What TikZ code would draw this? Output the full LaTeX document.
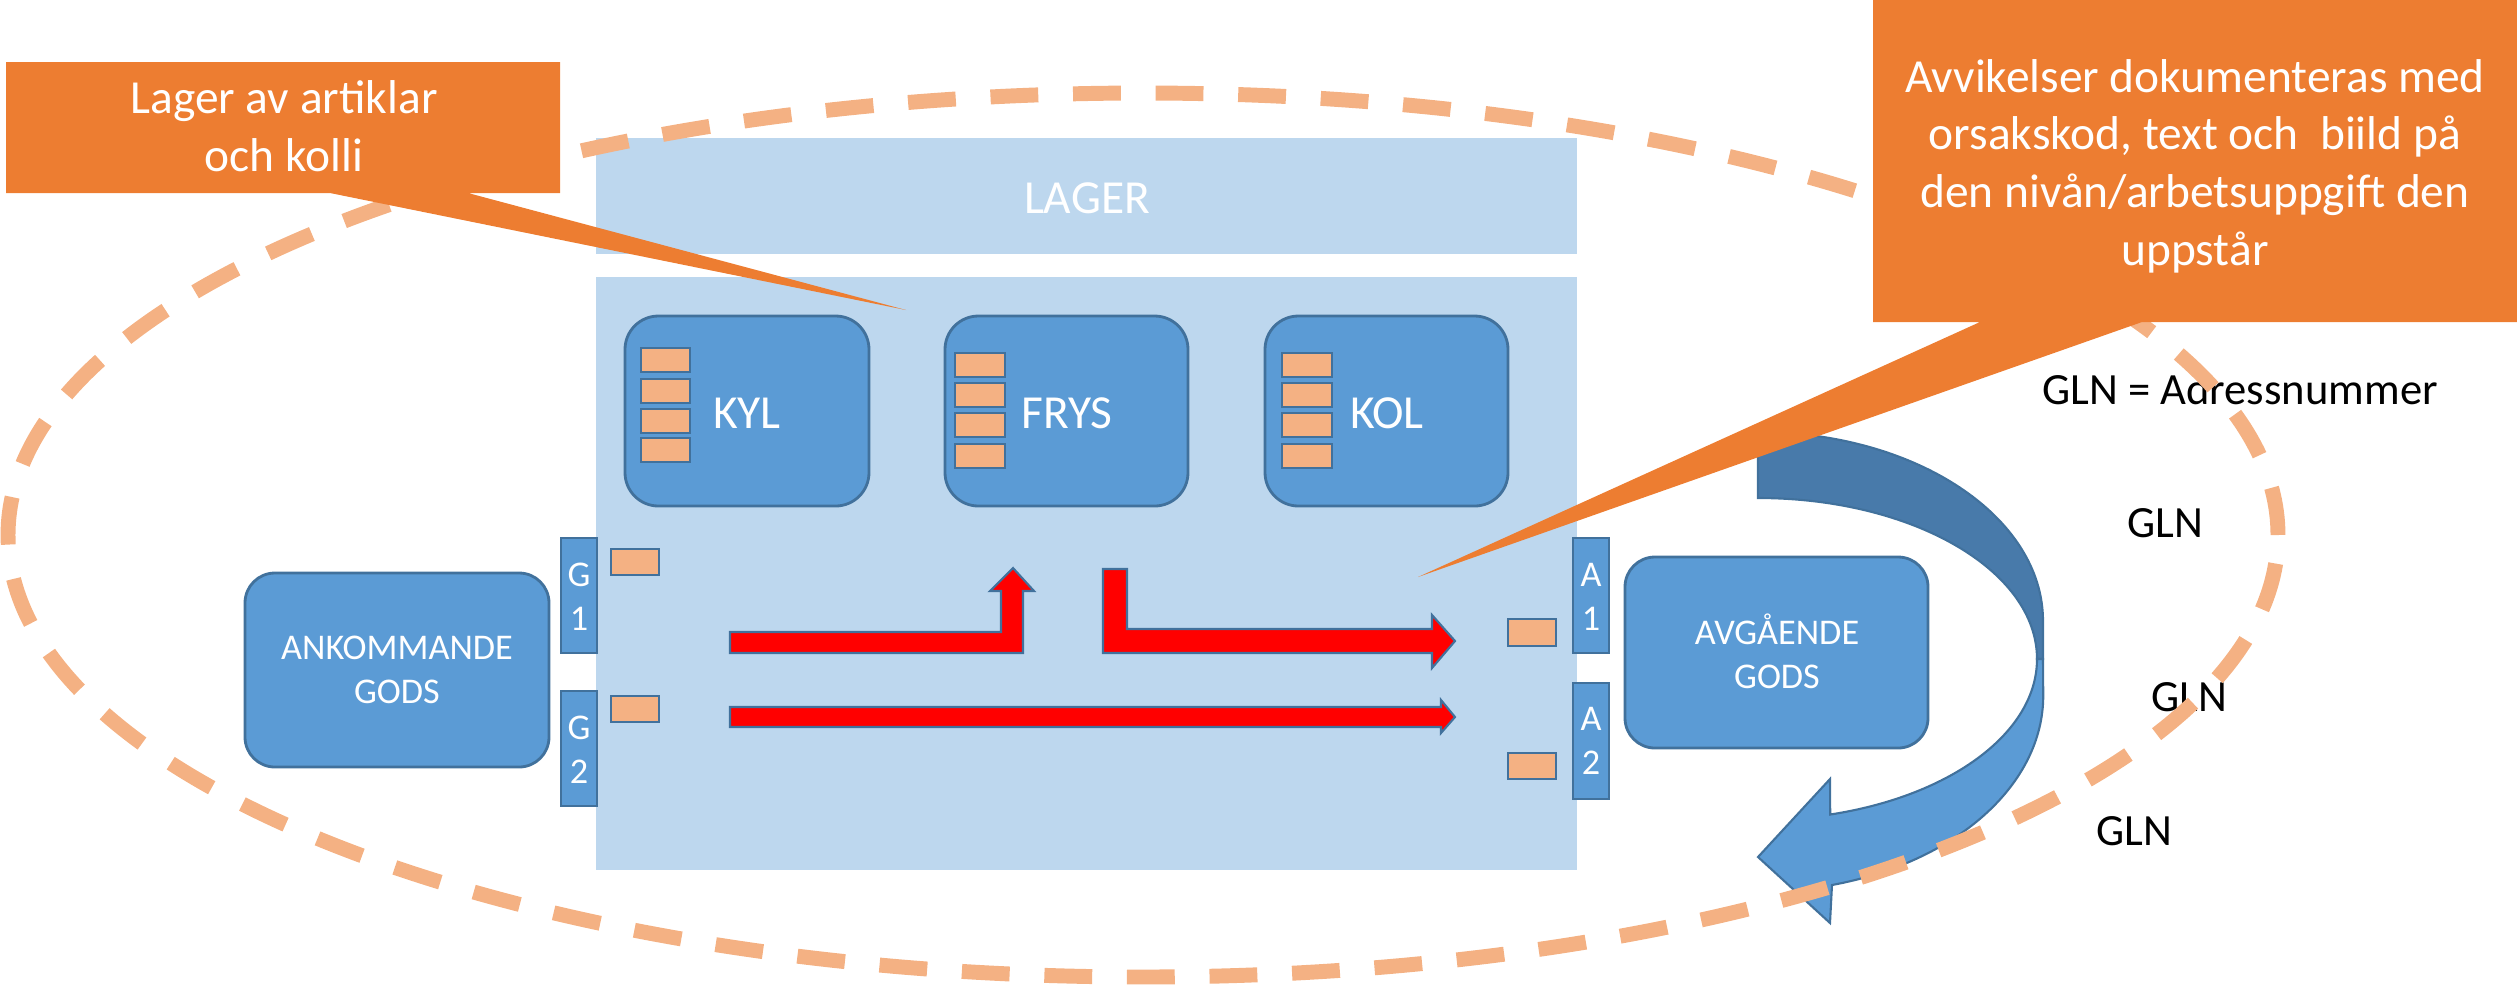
\documentclass[tikz,border=0pt]{standalone}
\usepackage{fontspec}
\setmainfont{Carlito}
\usepackage{tikz}

\definecolor{lagerblue}{RGB}{189,215,238}
\definecolor{boxblue}{RGB}{91,155,213}
\definecolor{boxedge}{RGB}{65,113,156}
\definecolor{turndark}{RGB}{72,122,170}
\definecolor{noteorange}{RGB}{237,125,49}
\definecolor{ringorange}{RGB}{244,177,131}

\begin{document}
\begin{tikzpicture}[x=0.1mm, y=-0.1mm,
    zone/.style={fill=lagerblue},
    room/.style={draw=boxedge, line width=0.8pt, fill=boxblue, rounded corners=9.5pt},
    gate/.style={draw=boxedge, line width=0.8pt, fill=boxblue},
    kolli/.style={draw=boxedge, line width=0.8pt, fill=ringorange},
    flowarrow/.style={draw=boxedge, line width=0.6pt, fill=red},
    uturn/.style={draw=boxedge, line width=0.6pt},
    note/.style={fill=noteorange},
    glnring/.style={draw=ringorange, line width=4.25pt, dash pattern=on 13.6pt off 9.9pt},
    bigtext/.style={text=white, font=\fontsize{13.5}{16.4}\selectfont},
    notetext/.style={text=white, align=center, font=\fontsize{13.5}{16.4}\selectfont},
    smalltext/.style={text=white, align=center, font=\fontsize{10.3}{12.6}\selectfont},
    glntext/.style={text=black, font=\fontsize{12.7}{15.5}\selectfont}
  ]
        \useasboundingbox (0,0) rectangle (2517,997);

        %Lager
        \fill [zone] (596,138) rectangle (1577,254);
        \node [bigtext] (lagertext) at (1087,198) {LAGER};
        \fill [zone] (596,277) rectangle (1577,870);

        %Rum
        \draw [room] (625,316) rectangle (869,506);
        \draw [room] (945,316) rectangle (1188,506);
        \draw [room] (1265,316) rectangle (1508,506);
        \node [bigtext] (kyl)  at (747,413)  {KYL};
        \node [bigtext] (frys) at (1067,413) {FRYS};
        \node [bigtext] (kol)  at (1387,413) {KOL};
        %Kolli i rummen
        \foreach \y in {348,379,409,438}
          \draw [kolli] (641,\y) rectangle +(49,24);
        \foreach \x in {955,1282}
          \foreach \y in {353,383,413,444}
            \draw [kolli] (\x,\y) rectangle +(50,24);

        %Portar
        \draw [gate] (561,538) rectangle (597,653);
        \node [smalltext] (g1) at (579,597) {G\\1};
        \draw [gate] (561,691) rectangle (597,806);
        \node [smalltext] (g2) at (579,750) {G\\2};
        \draw [gate] (1573,538) rectangle (1609,653);
        \node [smalltext] (a1) at (1591,597) {A\\1};
        \draw [gate] (1573,683) rectangle (1609,799);
        \node [smalltext] (a2) at (1591,741) {A\\2};
        %Kolli vid portar
        \draw [kolli] (611,549) rectangle (659,575);
        \draw [kolli] (611,696) rectangle (659,722);
        \draw [kolli] (1508,619) rectangle (1556,646);
        \draw [kolli] (1508,753) rectangle (1556,779);

        %Gods
        \draw [room, rounded corners=8.5pt] (245,573) rectangle (549,767);
        \node [smalltext] (ankommande) at (397,670) {ANKOMMANDE\\GODS};
        \draw [room, rounded corners=8.5pt] (1625,557) rectangle (1928,748);
        \node [smalltext] (avgaende) at (1777,651) {AVGÅENDE\\GODS};

        %Flöden
        \draw [flowarrow] (730,632) -- (1001,632) -- (1001,591) -- (990,591) -- (1013,568)
          -- (1034,591) -- (1023,591) -- (1023,653) -- (730,653) -- cycle;
        \draw [flowarrow] (1103,569) -- (1127,569) -- (1127,629) -- (1432,629) -- (1432,615)
          -- (1455,641) -- (1432,668) -- (1432,653) -- (1103,653) -- cycle;
        \draw [flowarrow] (730,707) -- (1441,707) -- (1441,700) -- (1455,717) -- (1441,733)
          -- (1441,727) -- (730,727) -- cycle;

        %Retur
        \draw [uturn, fill=turndark] (1758,432)
          arc [start angle=90, end angle=0, x radius=2.85cm, y radius=1.89cm]
          -- (2043,659) -- (2037,659)
          arc [start angle=0, end angle=90, x radius=2.79cm, y radius=1.61cm] -- cycle;
        \draw [uturn, fill=boxblue] (2037,659)
          arc [start angle=0, end angle=-75, x radius=2.79cm, y radius=1.61cm]
          -- (1830,779) -- (1758,857) -- (1830,923) -- (1832,885)
          arc [start angle=-75, end angle=0, x radius=2.85cm, y radius=1.96cm]
          -- (2043,659) -- cycle;

        %GLN
        \node [glntext] (glnkey) at (2240,389) {GLN = Adressnummer};
        \node [glntext] (glna) at (2165,523) {GLN};
        \node [glntext] (glnb) at (2189,697) {GLN};
        \node [glntext] (glnc) at (2134,831) {GLN};
        \draw [glnring] (1143,535) ellipse [x radius=11.35cm, y radius=4.42cm];

        %Notes
        \fill [note] (6,62) -- (560,62) -- (560,193) -- (468,193) -- (906,310)
          -- (330,193) -- (6,193) -- cycle;
        \node [notetext] (lagernote) at (284,126) {Lager av artiklar\\och kolli};
        \fill [note] (1873,0) -- (2517,0) -- (2517,322) -- (2142,322) -- (1418,577)
          -- (1980,322) -- (1873,322) -- cycle;
        \node [notetext] (avvikelsenote) at (2195,166)
          {Avvikelser dokumenteras med\\orsakskod, text och~ biild på\\den nivån/arbetsuppgift den\\uppstår};
      \end{tikzpicture}
\end{document}
